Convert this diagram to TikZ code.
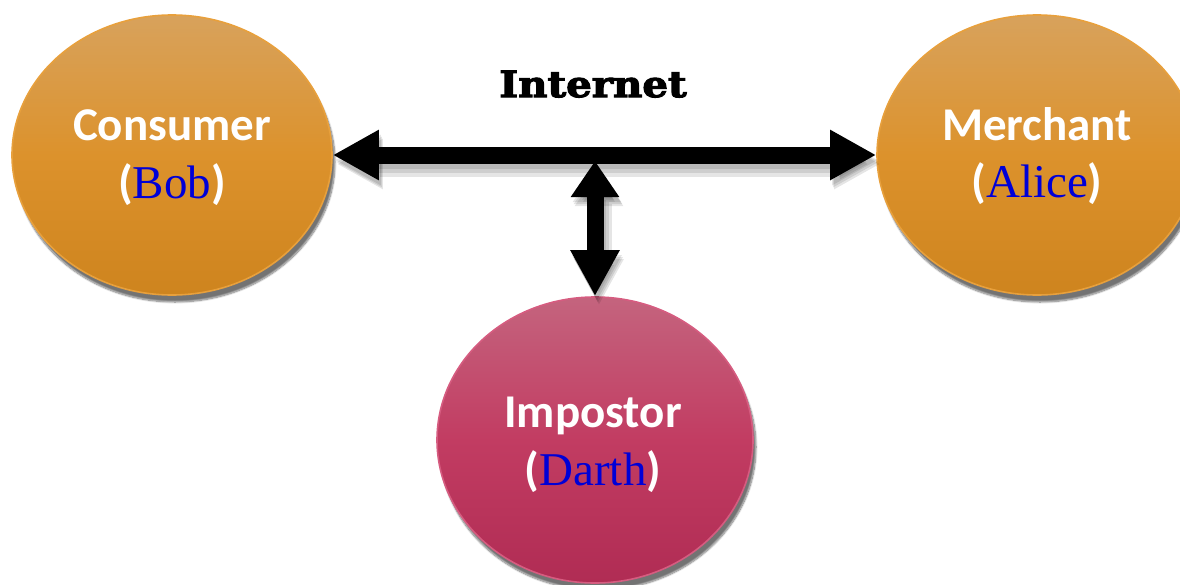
\documentclass[tikz,border=0pt]{standalone}
\usepackage{fontspec}
\usetikzlibrary{shapes.geometric,arrows.meta,shadows.blur}
\newfontfamily\labelfont{Carlito}
\newfontfamily\namefont{Liberation Serif}
\newfontfamily\slabfont{DejaVu Serif}[BoldFeatures={FakeBold=3}]
\definecolor{orTop}{RGB}{216,162,92}
\definecolor{orMid}{RGB}{220,146,44}
\definecolor{orBot}{RGB}{206,132,30}
\definecolor{orEdge}{RGB}{232,160,60}
\definecolor{pkTop}{RGB}{196,100,126}
\definecolor{pkMid}{RGB}{194,60,98}
\definecolor{pkBot}{RGB}{176,44,84}
\definecolor{pkEdge}{RGB}{214,92,128}
\definecolor{nameblue}{RGB}{0,0,215}
\tikzset{
  party/.style={ellipse, inner sep=0pt, minimum width=320pt, minimum height=280pt,
    line width=1.6pt,
    blur shadow={shadow xshift=3pt, shadow yshift=-7pt, shadow blur steps=10, shadow opacity=55}},
  orangeparty/.style={party, draw=orEdge, top color=orTop, bottom color=orBot, middle color=orMid},
  pinkparty/.style={party, draw=pkEdge, top color=pkTop, bottom color=pkBot, middle color=pkMid,
    minimum width=316pt, minimum height=286pt},
  role/.style={anchor=base, text=white, font=\labelfont\bfseries\fontsize{47}{52}\selectfont, inner sep=0pt},
  who/.style={anchor=base, text=white, font=\labelfont\bfseries\fontsize{47}{52}\selectfont, inner sep=0pt},
  link/.style={line width=17pt, black},
}
\newcommand{\pname}[1]{{\namefont\mdseries\fontsize{47}{52}\selectfont\color{nameblue}#1}}
\begin{document}
\begin{tikzpicture}[x=1pt,y=-1pt]
  \useasboundingbox (0,0) rectangle (1180,584);

  % the three parties
  \node[orangeparty] (bob)   at (172,155) {};
  \node[orangeparty] (alice) at (1037,155) {};
  \node[pinkparty]   (darth) at (595,440) {};

  % their labels
  \node[role] (bobrole)   at (172,140)  {Consumer};
  \node[who]  (bobname)   at (172,198)  {(\pname{Bob})};
  \node[role] (alicerole) at (1037,140) {Merchant};
  \node[who]  (alicename) at (1037,197) {(\pname{Alice})};
  \node[role] (darthrole) at (593,427)  {Impostor};
  \node[who]  (darthname) at (593,485)  {(\pname{Darth})};

  % the network
  \node[anchor=base, inner sep=0pt, xscale=1.12, transform shape,
        font=\slabfont\bfseries\fontsize{36}{42}\selectfont] (net) at (593,97) {Internet};
  \coordinate (hub) at (595,161);

  % soft shadows under the links
  \foreach \dx/\dy/\w in {2/5/17, 3/7/21, 4/9/25} {
    \draw[line width=\w pt, black, opacity=0.10,
          {Triangle[width=47pt,length=46pt]}-{Triangle[width=47pt,length=46pt]}]
      ([shift={(\dx,\dy)}]bob.east) -- ([shift={(\dx,\dy)}]alice.west);
    \draw[line width=\w pt, black, opacity=0.10,
          {Triangle[width=46pt,length=36pt]}-{Triangle[width=46pt,length=46pt]}]
      ([shift={(\dx,\dy)}]hub) -- ([shift={(\dx,\dy)}]darth.north);
  }

  % the links themselves
  \draw[link, {Triangle[width=47pt,length=46pt]}-{Triangle[width=47pt,length=46pt]}]
    (bob.east) -- (alice.west);
  \draw[link, {Triangle[width=46pt,length=36pt]}-{Triangle[width=46pt,length=46pt]}]
    (hub) -- (darth.north);
\end{tikzpicture}
\end{document}
